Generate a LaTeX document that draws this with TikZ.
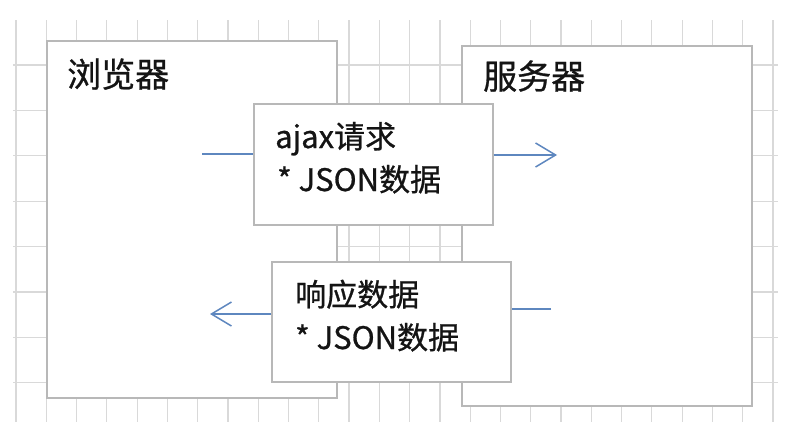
\documentclass[tikz,border=0pt]{standalone}
\usepackage{fontspec}
\setmainfont{Noto Sans CJK SC}[FakeBold=0.8]
\usetikzlibrary{arrows.meta}
\definecolor{gridc}{HTML}{D9D9D9}
\definecolor{boxc}{HTML}{B8B8B8}
\definecolor{arrc}{HTML}{5E87BF}
\definecolor{txtc}{HTML}{141414}
\begin{document}
\begin{tikzpicture}[x=1pt,y=-1pt,
  boxnode/.style={draw=boxc, line width=1.5pt, fill=white, rectangle, inner sep=0pt, anchor=north west},
  lbl/.style={anchor=base west, inner sep=0pt, font=\fontsize{31}{37}\selectfont, text=txtc},
  head/.style={lbl, font=\fontsize{34}{40}\selectfont},
  flow/.style={draw=arrc, line width=1.5pt},
  gridline/.style={draw=gridc, line width=1.2pt}]
\useasboundingbox (0,0) rectangle (790,434);
\fill[white] (0,0) rectangle (790,434);
\foreach \i in {0,...,25} \draw[gridline] ({16+30.28*\i},20) -- ({16+30.28*\i},422);
\foreach \j in {0,...,7} \draw[gridline] (13,{65+45.4*\j}) -- (778,{65+45.4*\j});
\node[boxnode, minimum width=290pt, minimum height=357pt] (browser) at (46,40) {};
\node[boxnode, minimum width=290pt, minimum height=360pt] (server) at (461,45) {};
\node[boxnode, minimum width=239pt, minimum height=121pt] (ajax) at (253,103) {};
\node[boxnode, minimum width=239pt, minimum height=120pt] (resp) at (271,261) {};
\node[head] (tb) at (67,87) {浏览器};
\node[head] (ts) at (483,89) {服务器};
\node[lbl] (ta1) at (275,148) {ajax请求};
\node[lbl] (ta2) at (277,191) {* JSON数据};
\node[lbl] (tr1) at (295,306) {响应数据};
\node[lbl] (tr2) at (295,349) {* JSON数据};
\coordinate (a0) at (202,154);
\coordinate (a1) at (557,155);
\draw[flow] (a0) -- (a0 -| ajax.west);
\draw[flow, -{Straight Barb[length=20pt,width=24pt]}] (ajax.east |- a1) -- (a1);
\coordinate (b0) at (551,309);
\coordinate (b1) at (210,314);
\draw[flow] (b0) -- (b0 -| resp.east);
\draw[flow, -{Straight Barb[length=20pt,width=24pt]}] (resp.west |- b1) -- (b1);
\end{tikzpicture}
\end{document}
